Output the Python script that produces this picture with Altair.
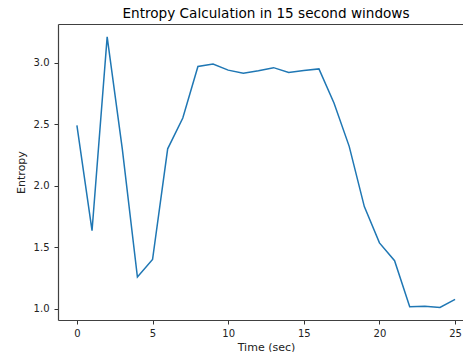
import altair as alt
import pandas as pd

time_sec = list(range(26))
entropy = [2.49, 1.634, 3.21, 2.3, 1.257, 1.40, 2.30, 2.55, 2.97, 2.99,
           2.94, 2.915, 2.934, 2.96, 2.92, 2.937, 2.95, 2.67, 2.32, 1.83,
           1.535, 1.39, 1.016, 1.02, 1.01, 1.076]
x_ticks = [0, 5, 10, 15, 20, 25]
y_ticks = [1.0, 1.5, 2.0, 2.5, 3.0]

df = pd.DataFrame({"t": time_sec, "e": entropy})

font = "DejaVu Sans"
frame = "#404040"

xscale = alt.Scale(domain=[-1.25, 26.25], nice=False, zero=False)
yscale = alt.Scale(domain=[0.908, 3.315], nice=False, zero=False)

base = alt.Chart(df)

line = base.mark_line(color="#1f77b4", strokeWidth=1.5, clip=True).encode(
    x=alt.X("t:Q", scale=xscale,
            axis=alt.Axis(values=x_ticks, title="Time (sec)", grid=False, format="d",
                          titlePadding=3, labelPadding=4, domain=True)),
    y=alt.Y("e:Q", scale=yscale,
            axis=alt.Axis(values=y_ticks, title="Entropy", grid=False, format=".1f",
                          titlePadding=7, labelPadding=5, domain=True)),
)

top = base.mark_line(opacity=0, clip=True).encode(
    x=alt.X("t:Q", scale=xscale,
            axis=alt.Axis(orient="top", labels=False, ticks=False, title=None,
                          grid=False, domain=True)),
    y=alt.Y("e:Q", scale=yscale),
)

chart = alt.layer(line, top).resolve_axis(x="independent").properties(
    width=416, height=296,
    title=alt.Title("Entropy Calculation in 15 second windows", fontSize=13.6, font=font,
                    fontWeight="normal", color="black", offset=3.5),
    autosize=alt.AutoSizeParams(type="none"),
    padding={"left": 50, "top": 16, "right": -11, "bottom": 32},
).configure_view(
    stroke=None
).configure_axis(
    domainColor=frame, domainWidth=1.2,
    labelFont=font, titleFont=font, labelFontSize=10, titleFontSize=11,
    labelColor="#222222", titleColor="#222222", tickColor="#333333", tickSize=4,
    titleFontWeight="normal",
)

chart.save("out.html", embed_options={"renderer": "svg", "actions": False})
